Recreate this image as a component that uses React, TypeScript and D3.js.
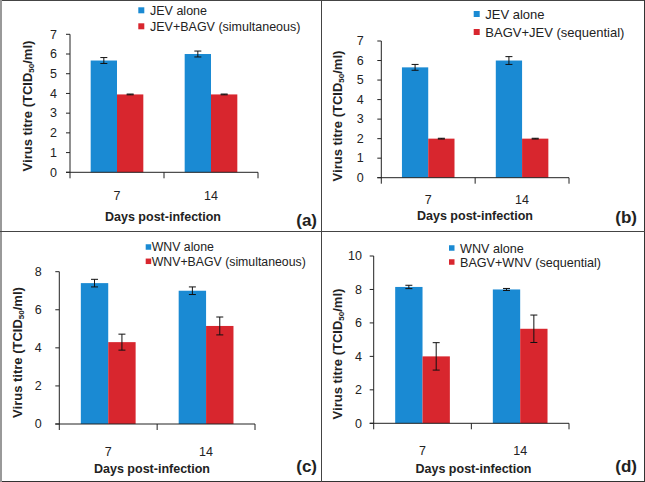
import React from "react";
import * as d3 from "d3";

const categories = ["7", "14"];

// Panel (a) JEV alone vs JEV+BAGV simultaneous
const aAlone = [5.67, 6.0];
const aAloneErr = [0.15, 0.15];
const aCombo = [3.95, 3.95];
const aComboErr = [0.02, 0.02];
const aLegend = ["JEV alone", "JEV+BAGV (simultaneous)"];

// Panel (b) JEV alone vs BAGV+JEV sequential
const bAlone = [5.65, 6.0];
const bAloneErr = [0.15, 0.2];
const bCombo = [2.0, 2.0];
const bComboErr = [0.02, 0.02];
const bLegend = ["JEV alone", "BAGV+JEV (sequential)"];

// Panel (c) WNV alone vs WNV+BAGV simultaneous
const cAlone = [7.4, 7.0];
const cAloneErr = [0.2, 0.2];
const cCombo = [4.3, 5.15];
const cComboErr = [0.42, 0.47];
const cLegend = ["WNV alone", "WNV+BAGV (simultaneous)"];

// Panel (d) WNV alone vs BAGV+WNV sequential
const dAlone = [8.15, 8.0];
const dAloneErr = [0.1, 0.06];
const dCombo = [4.0, 5.65];
const dComboErr = [0.82, 0.82];
const dLegend = ["WNV alone", "BAGV+WNV (sequential)"];

const ticksJEV = [0, 1, 2, 3, 4, 5, 6, 7];
const ticksC = [0, 2, 4, 6, 8];
const ticksD = [0, 2, 4, 6, 8, 10];
const tags = ["(a)", "(b)", "(c)", "(d)"];
const xTitle = "Days post-infection";

const BLUE = "#1a8ad3";
const RED = "#d8262e";
const FONT = "'Liberation Sans', Arial, Helvetica, sans-serif";

type Layout = {
  x0: number; x1: number; y0: number; yTop: number; yMax: number;
  tickGap: number; xLabelY: number; titleX: number; titleY: number;
  yTitleX: number; yTitleY: number; tagX: number; tagY: number;
  legX: number; legY: number[]; legSq: number; legTextX: number; legFont: number;
};

const layouts: Layout[] = [
  { x0: 70, x1: 258, y0: 172.3, yTop: 34.3, yMax: 7, tickGap: 13, xLabelY: 200, titleX: 163, titleY: 220.7, yTitleX: 27, yTitleY: 106, tagX: 317, tagY: 226, legX: 138.3, legY: [10.3, 26.3], legSq: 6, legTextX: 150, legFont: 12.5 },
  { x0: 381.3, x1: 569, y0: 177.7, yTop: 41, yMax: 7, tickGap: 17.5, xLabelY: 204, titleX: 475, titleY: 220, yTitleX: 337, yTitleY: 116, tagX: 637, tagY: 223, legX: 473.7, legY: [14, 32], legSq: 6, legTextX: 485.3, legFont: 13 },
  { x0: 59.3, x1: 255, y0: 424, yTop: 271.7, yMax: 8, tickGap: 17.5, xLabelY: 456, titleX: 152, titleY: 473.3, yTitleX: 17, yTitleY: 352.5, tagX: 317, tagY: 472, legX: 145.7, legY: [247, 261.3], legSq: 5.5, legTextX: 151.7, legFont: 12.3 },
  { x0: 373.7, x1: 569, y0: 423.3, yTop: 256, yMax: 10, tickGap: 11.7, xLabelY: 455, titleX: 473.5, titleY: 473.3, yTitleX: 337, yTitleY: 354, tagX: 637, tagY: 472, legX: 449, legY: [248, 262], legSq: 5.5, legTextX: 460, legFont: 12.6 },
];

type PanelProps = {
  L: Layout; alone: number[]; aloneErr: number[]; combo: number[]; comboErr: number[];
  legend: string[]; ticks: number[]; tag: string;
};

function Panel({ L, alone, aloneErr, combo, comboErr, legend, ticks, tag }: PanelProps) {
  const x = d3.scaleBand<string>().domain(categories).range([L.x0, L.x1]).padding(0);
  const y = d3.scaleLinear().domain([0, L.yMax]).range([L.y0, L.yTop]);
  const bw = x.step() * 0.28;
  const series = [
    { vals: alone, errs: aloneErr, color: BLUE, off: -bw },
    { vals: combo, errs: comboErr, color: RED, off: 0 },
  ];
  const cap = 3.5;
  const xTicks = [L.x0, ...categories.map((c) => (x(c) as number) + x.step())];
  return (
    <g>
      {series.map((s, si) =>
        categories.map((c, i) => {
          const cx = (x(c) as number) + x.step() / 2;
          const bx = cx + s.off;
          return (
            <rect key={`b${si}${i}`} x={bx} y={y(s.vals[i])} width={bw} height={L.y0 - y(s.vals[i])} fill={s.color} />
          );
        })
      )}
      {series.map((s, si) =>
        categories.map((c, i) => {
          const cx = (x(c) as number) + x.step() / 2 + s.off + bw / 2;
          const hi = y(s.vals[i] + s.errs[i]);
          const lo = y(s.vals[i] - s.errs[i]);
          return (
            <g key={`e${si}${i}`} stroke="#111" strokeWidth={1}>
              <line x1={cx} x2={cx} y1={hi} y2={lo} />
              <line x1={cx - cap} x2={cx + cap} y1={hi} y2={hi} />
              <line x1={cx - cap} x2={cx + cap} y1={lo} y2={lo} />
            </g>
          );
        })
      )}
      {/* y axis */}
      <line x1={L.x0} x2={L.x0} y1={L.y0} y2={y(L.yMax)} stroke="#222" strokeWidth={1} />
      {ticks.map((t) => (
        <g key={`yt${t}`}>
          <line x1={L.x0 - 4} x2={L.x0} y1={y(t)} y2={y(t)} stroke="#222" strokeWidth={1} />
          <text x={L.x0 - L.tickGap} y={y(t) + 4.3} textAnchor="end" fontSize={12.5} fill="#222" fontFamily={FONT}>
            {t}
          </text>
        </g>
      ))}
      {/* x axis */}
      <line x1={L.x0 - 4} x2={L.x1} y1={L.y0} y2={L.y0} stroke="#222" strokeWidth={1} />
      {xTicks.map((t, i) => (
        <line key={`xt${i}`} x1={t} x2={t} y1={L.y0} y2={L.y0 + 6} stroke="#222" strokeWidth={1} />
      ))}
      {categories.map((c) => (
        <text key={`xl${c}`} x={(x(c) as number) + x.step() / 2} y={L.xLabelY} textAnchor="middle" fontSize={12.5} fill="#222" fontFamily={FONT}>
          {c}
        </text>
      ))}
      <text x={L.titleX} y={L.titleY} textAnchor="middle" fontSize={12.5} fontWeight="bold" fill="#222" fontFamily={FONT}>
        {xTitle}
      </text>
      <text
        transform={`translate(${L.yTitleX + 4.5},${L.yTitleY}) rotate(-90)`}
        textAnchor="middle"
        fontSize={13}
        fontWeight="bold"
        fill="#222"
        fontFamily={FONT}
      >
        Virus titre (TCID<tspan fontSize={8} dy={2}>50</tspan>
        <tspan dy={-2}>/ml)</tspan>
      </text>
      <text x={L.tagX} y={L.tagY} textAnchor="end" fontSize={17} fontWeight="bold" fill="#222" fontFamily={FONT}>
        {tag}
      </text>
      {legend.map((lab, i) => (
        <g key={`lg${i}`}>
          <rect x={L.legX} y={L.legY[i] - L.legSq / 2} width={L.legSq} height={L.legSq} fill={i === 0 ? BLUE : RED} />
          <text x={L.legTextX} y={L.legY[i] + L.legFont * 0.36} fontSize={L.legFont} fill="#222" fontFamily={FONT}>
            {lab}
          </text>
        </g>
      ))}
    </g>
  );
}

export default function App() {
  return (
    <svg
      width={645}
      height={482}
      style={{ position: "absolute", left: 0, top: 0, background: "#fff" }}
    >
      <rect x={0} y={0} width={645} height={482} fill="#fff" />
      <Panel L={layouts[0]} alone={aAlone} aloneErr={aAloneErr} combo={aCombo} comboErr={aComboErr} legend={aLegend} ticks={ticksJEV} tag={tags[0]} />
      <Panel L={layouts[1]} alone={bAlone} aloneErr={bAloneErr} combo={bCombo} comboErr={bComboErr} legend={bLegend} ticks={ticksJEV} tag={tags[1]} />
      <Panel L={layouts[2]} alone={cAlone} aloneErr={cAloneErr} combo={cCombo} comboErr={cComboErr} legend={cLegend} ticks={ticksC} tag={tags[2]} />
      <Panel L={layouts[3]} alone={dAlone} aloneErr={dAloneErr} combo={dCombo} comboErr={dComboErr} legend={dLegend} ticks={ticksD} tag={tags[3]} />
      {/* frame and dividers */}
      <line x1={0.5} x2={644.5} y1={0.5} y2={0.5} stroke="#444" strokeWidth={1} />
      <line x1={0.5} x2={644.5} y1={481.5} y2={481.5} stroke="#333" strokeWidth={1} />
      <line x1={644.5} x2={644.5} y1={0} y2={482} stroke="#333" strokeWidth={1} />
      <line x1={1} x2={1} y1={0} y2={482} stroke="#999" strokeWidth={2} />
      <line x1={321.5} x2={321.5} y1={0} y2={482} stroke="#444" strokeWidth={1} />
      <line x1={0} x2={645} y1={231.5} y2={231.5} stroke="#444" strokeWidth={1} />
    </svg>
  );
}
